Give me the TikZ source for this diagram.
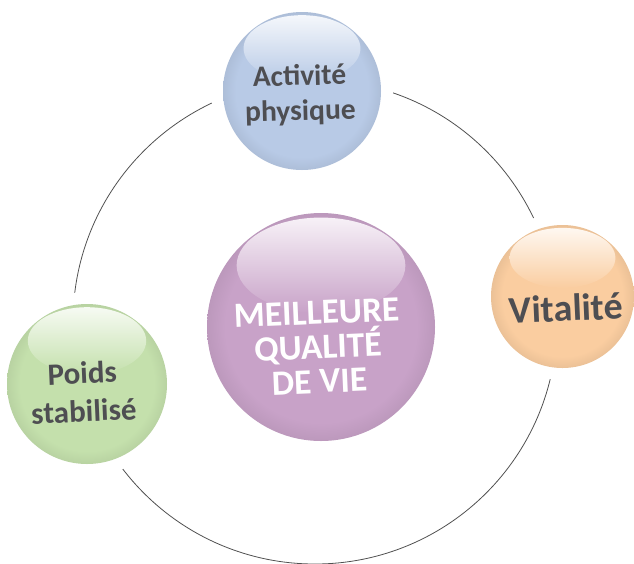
\documentclass[tikz,border=0pt]{standalone}
\usepackage{fontspec}
\setmainfont{Carlito}
\usetikzlibrary{calc,shadings}
\definecolor{cblue}{RGB}{184,202,230}
\definecolor{corange}{RGB}{250,205,160}
\definecolor{cgreen}{RGB}{196,224,172}
\definecolor{cpurple}{RGB}{200,162,200}
\definecolor{txtgray}{RGB}{78,78,82}
\definecolor{ringgray}{RGB}{80,80,80}
\colorlet{rimcol}{cblue}
\pgfdeclareradialshading[rimcol]{rimball}{\pgfpoint{0bp}{0bp}}{%
  color(0bp)=(rimcol); color(21bp)=(rimcol); color(25bp)=(rimcol!94!black); color(50bp)=(rimcol!94!black)}
\newcommand\mybubble[4]{% x, y, r, colour
  \fill[white] (#1,#2) circle[radius=#3pt+12pt];
  \colorlet{rimcol}{#4}%
  \shade[shading=rimball] (#1,#2) circle[radius=#3pt];
  \shade[top color=white!85!#4, bottom color=#4]
    ($(#1,#2)+(0,-0.54*#3)$) ellipse[x radius=0.74*#3pt, y radius=0.42*#3pt];
}
\tikzset{
  ringline/.style={draw=ringgray, line width=0.8pt},
  bubtext/.style={font=\bfseries, text=txtgray, align=center, inner sep=0pt},
}
\begin{document}
\begin{tikzpicture}[x=1pt,y=-1pt]
\useasboundingbox (0,0) rectangle (634,563);
\draw[ringline] (315,322) circle[radius=242pt];
\mybubble{302}{91}{79}{cblue}
\mybubble{562.5}{296.5}{71.5}{corange}
\mybubble{87}{384}{80}{cgreen}
\mybubble{321}{327}{114}{cpurple}
\node[bubtext, rotate=1.5, font=\bfseries\fontsize{29.5}{35}\selectfont] (top) at (300,95) {Activité\\physique};
\node[bubtext, rotate=2.5, font=\bfseries\fontsize{38}{44}\selectfont] (right) at (566,308) {Vitalité};
\node[bubtext, rotate=2.5, font=\bfseries\fontsize{31}{38}\selectfont] (left) at (83,392) {Poids\\stabilisé};
\node[bubtext, rotate=2.5, text=white, font=\bfseries\fontsize{35.5}{34.5}\selectfont] (center) at (318,347) {MEILLEURE\\QUALITÉ\\DE VIE};
\end{tikzpicture}
\end{document}
